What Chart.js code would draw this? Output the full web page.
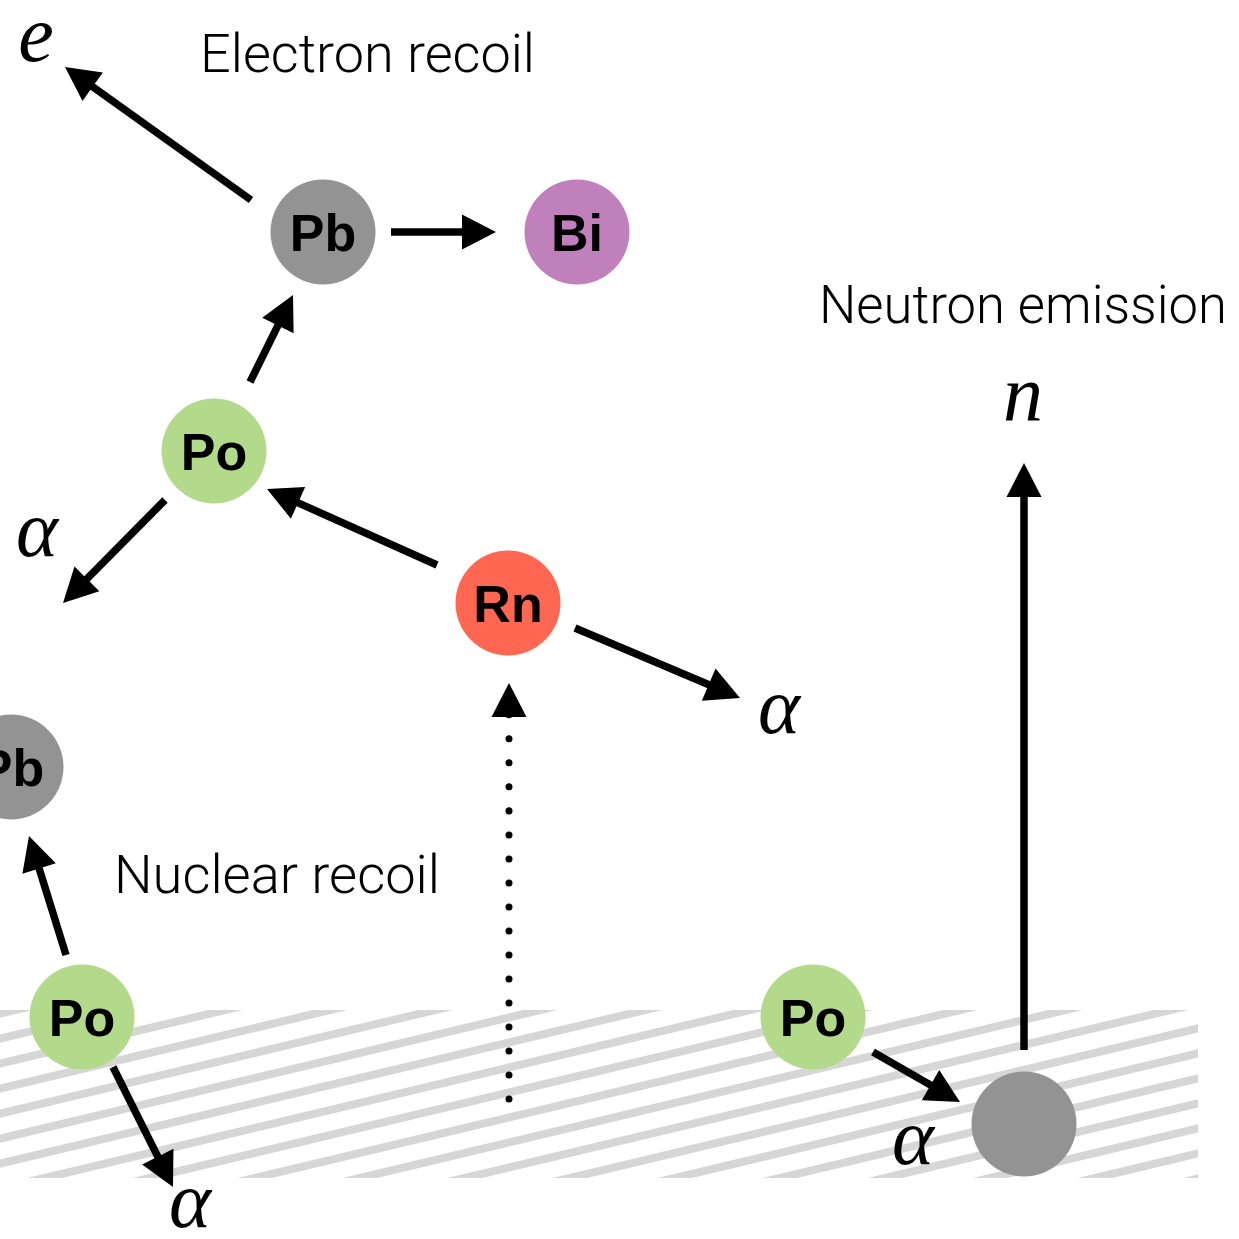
<!DOCTYPE html>
<html>
<head>
<meta charset="utf-8">
<style>
  html, body { margin: 0; padding: 0; background: #ffffff; }
  #wrap { width: 1239px; height: 1239px; position: relative; }
</style>
<script src="https://cdn.jsdelivr.net/npm/chart.js@4.4.1/dist/chart.umd.min.js"></script>
</head>
<body>
<div id="wrap"><canvas id="c"></canvas></div>
<script>
// ---------- data (diagram coordinates, y grows downward) ----------
const nuclideLabels = ['Pb', 'Bi', 'Po', 'Rn', 'Pb', 'Po', 'Po', ''];
const nuclideKind   = ['Pb', 'Bi', 'Po', 'Rn', 'Pb', 'Po', 'Po', 'Pb'];
const nuclideX      = [323, 577, 214, 508, 11, 82, 813, 1024];
const nuclideY      = [232, 232, 451, 603, 767, 1017, 1017, 1124];

const arrowFromX = [251, 391, 250, 165, 437, 575, 66, 113, 873, 1024];
const arrowFromY = [200, 232, 382, 500, 565, 628, 955, 1067, 1052, 1050];
const arrowToX   = [65, 496, 293, 63, 267, 740, 29, 173, 960, 1024];
const arrowToY   = [67, 232, 295, 603, 489, 698, 836, 1187, 1102, 463];

const dottedFromX = [509];
const dottedFromY = [1099];
const dottedToX   = [509];
const dottedToY   = [683];

const surfaceX = [0, 1198];
const surfaceY = [1010, 1178];

const captionTexts = ['Electron recoil', 'Neutron emission', 'Nuclear recoil'];
const captionX     = [200, 819, 114];
const captionY     = [72, 323, 893];

const symbolTexts = ['e', 'α', 'α', 'α', 'α', 'n'];
const symbolX     = [36, 37, 779, 190, 913, 1023];
const symbolY     = [61, 556, 733, 1227, 1164, 420];

// ---------- styles ----------
const kindColors = { Pb: '#939393', Bi: '#c080bc', Po: '#b3d98a', Rn: '#ff6752' };
const NUCLIDE_R = 52.5;
const SHAFT_W = 7.5;
const HEAD_LEN = 34;
const HEAD_HALF = 17.5;
const captionWidths = [335, 408, 326];

function shaftEnd(fx, fy, tx, ty) {
  const dx = tx - fx, dy = ty - fy, L = Math.hypot(dx, dy);
  const k = (HEAD_LEN - 6) / L;
  return { x: tx - dx * k, y: ty - dy * k };
}

const datasets = [];
arrowFromX.forEach((fx, i) => {
  const e = shaftEnd(fx, arrowFromY[i], arrowToX[i], arrowToY[i]);
  datasets.push({
    type: 'line',
    data: [{ x: fx, y: arrowFromY[i] }, e],
    borderColor: '#000000',
    borderWidth: SHAFT_W,
    borderCapStyle: 'butt',
    pointRadius: 0,
    fill: false,
    tension: 0,
    clip: false
  });
});
dottedFromX.forEach((fx, i) => {
  const e = shaftEnd(fx, dottedFromY[i], dottedToX[i], dottedToY[i]);
  datasets.push({
    type: 'line',
    data: [{ x: fx, y: dottedFromY[i] }, e],
    borderColor: '#000000',
    borderWidth: 7,
    borderCapStyle: 'round',
    borderDash: [0.01, 24],
    pointRadius: 0,
    fill: false,
    tension: 0,
    clip: false
  });
});
datasets.push({
  type: 'bubble',
  data: nuclideX.map((x, i) => ({ x: x, y: nuclideY[i] })),
  backgroundColor: nuclideKind.map(k => kindColors[k]),
  borderWidth: 0,
  radius: NUCLIDE_R,
  hoverRadius: 0,
  clip: false
});

const diagramPlugin = {
  id: 'diagram',
  beforeDatasetsDraw(chart) {
    const ctx = chart.ctx, xs = chart.scales.x, ys = chart.scales.y;
    const x0 = xs.getPixelForValue(surfaceX[0]), x1 = xs.getPixelForValue(surfaceX[1]);
    const y0 = ys.getPixelForValue(surfaceY[0]), y1 = ys.getPixelForValue(surfaceY[1]);
    ctx.save();
    ctx.beginPath();
    ctx.rect(x0, y0, x1 - x0, y1 - y0);
    ctx.clip();
    ctx.strokeStyle = '#d6d6d6';
    ctx.lineWidth = 8;
    const slope = 0.238, gap = 25;
    const refX = 200, refY = y0 + 6;
    for (let k = -60; k <= 60; k++) {
      const yAtRef = refY + k * gap;
      const ya = yAtRef + slope * (refX - (x0 - 20));
      const yb = yAtRef - slope * ((x1 + 20) - refX);
      ctx.beginPath();
      ctx.moveTo(x0 - 20, ya);
      ctx.lineTo(x1 + 20, yb);
      ctx.stroke();
    }
    ctx.restore();
  },
  afterDatasetsDraw(chart) {
    const ctx = chart.ctx, xs = chart.scales.x, ys = chart.scales.y;
    ctx.save();
    // arrowheads
    const heads = [];
    arrowFromX.forEach((fx, i) => heads.push([fx, arrowFromY[i], arrowToX[i], arrowToY[i]]));
    dottedFromX.forEach((fx, i) => heads.push([fx, dottedFromY[i], dottedToX[i], dottedToY[i]]));
    ctx.fillStyle = '#000000';
    heads.forEach(h => {
      const fx = xs.getPixelForValue(h[0]), fy = ys.getPixelForValue(h[1]);
      const tx = xs.getPixelForValue(h[2]), ty = ys.getPixelForValue(h[3]);
      const dx = tx - fx, dy = ty - fy, L = Math.hypot(dx, dy);
      const ux = dx / L, uy = dy / L, nx = -uy, ny = ux;
      const bx = tx - ux * HEAD_LEN, by = ty - uy * HEAD_LEN;
      ctx.beginPath();
      ctx.moveTo(tx, ty);
      ctx.lineTo(bx + nx * HEAD_HALF, by + ny * HEAD_HALF);
      ctx.lineTo(bx - nx * HEAD_HALF, by - ny * HEAD_HALF);
      ctx.closePath();
      ctx.fill();
    });
    // nuclide labels
    ctx.font = 'bold 52px "Liberation Sans", Arial, sans-serif';
    ctx.textAlign = 'center';
    ctx.textBaseline = 'alphabetic';
    ctx.fillStyle = '#000000';
    nuclideLabels.forEach((t, i) => {
      if (!t) return;
      const px = xs.getPixelForValue(nuclideX[i]), py = ys.getPixelForValue(nuclideY[i]);
      ctx.fillText(t, px, py + 52 * 0.716 / 2);
    });
    // captions
    ctx.textAlign = 'left';
    ctx.font = '300 53px Roboto, "Liberation Sans", sans-serif';
    captionTexts.forEach((t, i) => {
      const px = xs.getPixelForValue(captionX[i]), py = ys.getPixelForValue(captionY[i]);
      const w = ctx.measureText(t).width;
      ctx.save();
      ctx.translate(px, py);
      ctx.scale(captionWidths[i] / w, 1);
      ctx.fillText(t, 0, 0);
      ctx.restore();
    });
    // particle symbols
    ctx.textAlign = 'center';
    ctx.font = 'italic 80px "Liberation Serif", "DejaVu Serif", serif';
    symbolTexts.forEach((t, i) => {
      ctx.fillText(t, xs.getPixelForValue(symbolX[i]), ys.getPixelForValue(symbolY[i]));
    });
    ctx.restore();
  }
};

new Chart(document.getElementById('c'), {
  type: 'scatter',
  data: { datasets: datasets },
  plugins: [diagramPlugin],
  options: {
    responsive: true,
    maintainAspectRatio: false,
    animation: false,
    events: [],
    layout: { padding: 0, autoPadding: false },
    plugins: { legend: { display: false }, tooltip: { enabled: false }, title: { display: false } },
    scales: {
      x: { type: 'linear', min: 0, max: 1239, display: false },
      y: { type: 'linear', min: 0, max: 1239, reverse: true, display: false }
    }
  }
});
</script>
</body>
</html>
